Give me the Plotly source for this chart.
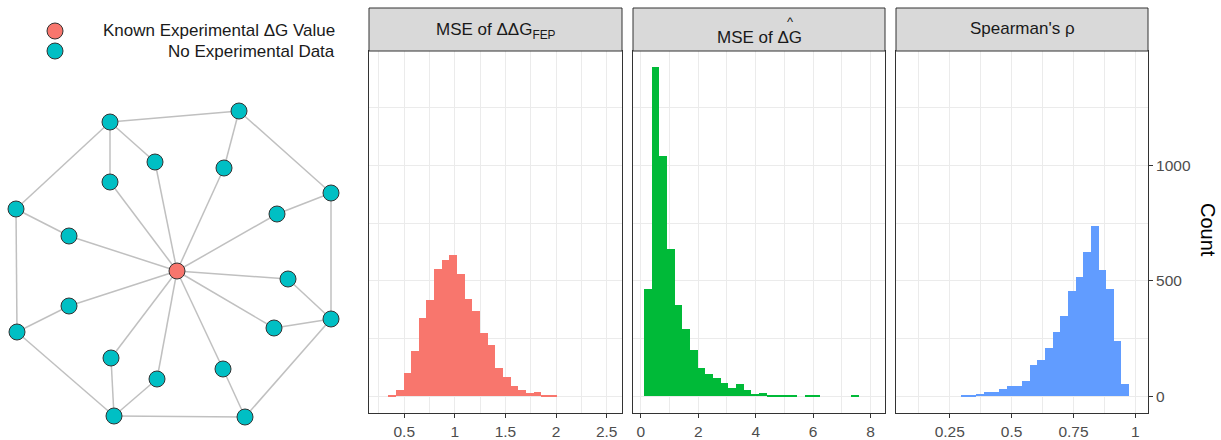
import plotly.graph_objects as go

# ---------------- data ----------------
# Histogram 1: MSE of ΔΔG_FEP
red_bin_start = 0.342
red_bin_width = 0.07555
red_counts = [3, 25, 102, 195, 339, 416, 552, 589, 612, 528, 420, 371, 275, 222,
              124, 82, 42, 25, 12, 16, 3, 2]

# Histogram 2: MSE of ΔG-hat
green_bin_start = 0.115
green_bin_width = 0.2666
green_counts = [463, 1425, 1041, 638, 395, 291, 200, 121, 95, 80, 56, 37, 52, 27,
                11, 15, 3, 6, 6, 3, 0, 2, 2, 0, 0, 0, 0, 2]

# Histogram 3: Spearman's rho
blue_bin_start = 0.2956
blue_bin_width = 0.03086
blue_counts = [4, 6, 10, 16, 20, 29, 42, 46, 66, 134, 157, 208, 279, 346, 457,
               516, 624, 739, 546, 464, 240, 53]

panel_titles = ["MSE of ΔΔG<sub>FEP</sub>", "MSE of ΔG", "Spearman's ρ"]
x_ticks_1 = [0.5, 1, 1.5, 2, 2.5]
x_labels_1 = ["0.5", "1", "1.5", "2", "2.5"]
x_ticks_2 = [0, 2, 4, 6, 8]
x_labels_2 = ["0", "2", "4", "6", "8"]
x_ticks_3 = [0.25, 0.5, 0.75, 1]
x_labels_3 = ["0.25", "0.5", "0.75", "1"]
y_ticks = [0, 500, 1000]
y_labels = ["0", "500", "1000"]

legend_labels = ["Known Experimental ΔG Value", "No Experimental Data"]

# Network layout (layout coordinates)
node_x = [177, 110, 239, 331, 331, 245, 114, 17, 16,
          110, 155, 224, 277, 288, 274, 223, 157, 111, 69, 69]
node_y = [271, 122, 111, 193, 319, 417, 416, 332, 209,
          182, 162, 168, 214, 279, 328, 369, 379, 358, 306, 236]
node_known = [True] + [False] * 19
edge_from = [1, 2, 3, 4, 5, 6, 7, 8,
             1, 1, 2, 3, 4, 4, 5, 6, 6, 7, 8,
             0, 0, 0, 0, 0, 0, 0, 0, 0, 0, 0]
edge_to = [2, 3, 4, 5, 6, 7, 8, 1,
           9, 10, 11, 12, 13, 14, 15, 17, 16, 18, 19,
           9, 10, 11, 12, 13, 14, 15, 16, 17, 18, 19]

# ---------------- styling ----------------
W, H = 1221, 440
RED, TEAL, GREEN, BLUE = "#F8766D", "#00BFC4", "#00BA38", "#619CFF"
GRID = "#EBEBEB"
DARK = "#333333"
FONT = "Liberation Sans, Arial, sans-serif"


def px(x):
    return x / W


def py(y):
    return 1 - y / H


panels = [(369, 622), (633, 885), (896, 1148)]
plot_top, plot_bottom = 51, 413
strip_top = 8

fig = go.Figure()

# ---- network ----
ex, ey = [], []
for a, b in zip(edge_from, edge_to):
    ex += [node_x[a], node_x[b], None]
    ey += [node_y[a], node_y[b], None]
fig.add_trace(go.Scatter(x=ex, y=ey, mode="lines", xaxis="x4", yaxis="y4",
                         line=dict(color="#C0C0C0", width=1.5),
                         hoverinfo="skip", showlegend=False))
fig.add_trace(go.Scatter(
    x=node_x, y=node_y, mode="markers", xaxis="x4", yaxis="y4",
    marker=dict(size=16, color=[RED if k else TEAL for k in node_known],
                line=dict(color=DARK, width=1)),
    showlegend=False))
# legend keys
fig.add_trace(go.Scatter(
    x=[55, 55], y=[31, 51], mode="markers", xaxis="x4", yaxis="y4",
    marker=dict(size=16, color=[RED, TEAL], line=dict(color=DARK, width=1)),
    showlegend=False, hoverinfo="skip"))

# ---- histograms ----
def centers(start, width, n):
    return [start + width * (i + 0.5) for i in range(n)]


hists = [
    (red_bin_start, red_bin_width, red_counts, RED, "x", "y"),
    (green_bin_start, green_bin_width, green_counts, GREEN, "x2", "y2"),
    (blue_bin_start, blue_bin_width, blue_counts, BLUE, "x3", "y3"),
]
for start, width, counts, col, xa, ya in hists:
    fig.add_trace(go.Bar(x=centers(start, width, len(counts)), y=counts,
                         width=width, marker=dict(color=col, line=dict(width=0)),
                         xaxis=xa, yaxis=ya, showlegend=False))

TICKFONT = dict(family=FONT, size=15.5, color="#4D4D4D")
xcommon = dict(showline=True, mirror=True, linecolor=DARK, linewidth=1,
               ticks="outside", ticklen=4, tickcolor=DARK, tickwidth=1,
               showgrid=True, gridcolor=GRID, gridwidth=1.1, zeroline=False,
               tickfont=TICKFONT, fixedrange=True)
ycommon = dict(showline=True, mirror=True, linecolor=DARK, linewidth=1,
               showgrid=True, gridcolor=GRID, gridwidth=1.1, zeroline=False,
               range=[-73, 1496], tickvals=y_ticks, ticktext=y_labels,
               minor=dict(dtick=250, tick0=0, showgrid=True, gridcolor=GRID,
                          gridwidth=0.6),
               fixedrange=True)
ydom = [py(plot_bottom), py(plot_top)]

layout = dict(
    width=W, height=H, margin=dict(l=0, r=0, t=0, b=0),
    paper_bgcolor="white", plot_bgcolor="white", bargap=0,
    font=dict(family=FONT, color="#1A1A1A"),
    xaxis=dict(xcommon, domain=[px(panels[0][0]), px(panels[0][1])], anchor="y",
               range=[0.152, 2.651], tickvals=x_ticks_1, ticktext=x_labels_1,
               minor=dict(dtick=0.25, tick0=0, showgrid=True, gridcolor=GRID, gridwidth=0.6)),
    xaxis2=dict(xcommon, domain=[px(panels[1][0]), px(panels[1][1])], anchor="y2",
                range=[-0.269, 8.499], tickvals=x_ticks_2, ticktext=x_labels_2,
                minor=dict(dtick=1, tick0=0, showgrid=True, gridcolor=GRID, gridwidth=0.6)),
    xaxis3=dict(xcommon, domain=[px(panels[2][0]), px(panels[2][1])], anchor="y3",
                range=[0.033, 1.051], tickvals=x_ticks_3, ticktext=x_labels_3,
                minor=dict(dtick=0.125, tick0=0, showgrid=True, gridcolor=GRID, gridwidth=0.6)),
    yaxis=dict(ycommon, domain=ydom, anchor="x", showticklabels=False, ticks=""),
    yaxis2=dict(ycommon, domain=ydom, anchor="x2", showticklabels=False, ticks=""),
    yaxis3=dict(ycommon, domain=ydom, anchor="x3", side="right",
                ticks="outside", ticklen=4, tickcolor=DARK, tickwidth=1,
                tickfont=TICKFONT),
    xaxis4=dict(domain=[0, px(356)], range=[0, 356], anchor="y4", visible=False,
                fixedrange=True),
    yaxis4=dict(domain=[0, 1], range=[H, 0], anchor="x4", visible=False,
                fixedrange=True),
)
fig.update_layout(**layout)

shapes = []
annotations = []
title_y = [30.5, 37.5, 28.5]
for (x0, x1), title, ty in zip(panels, panel_titles, title_y):
    shapes.append(dict(type="rect", xref="paper", yref="paper",
                       x0=px(x0), x1=px(x1), y0=py(plot_top), y1=py(strip_top),
                       fillcolor="#D9D9D9", line=dict(color=DARK, width=1)))
    annotations.append(dict(text=title, xref="paper", yref="paper",
                            x=px((x0 + x1) / 2), y=py(ty), showarrow=False,
                            xanchor="center", yanchor="middle",
                            font=dict(family=FONT, size=17, color="#1A1A1A")))
# hat over ΔG
annotations.append(dict(text="^", xref="paper", yref="paper", x=px(790), y=py(21),
                        showarrow=False, xanchor="center", yanchor="middle",
                        font=dict(family=FONT, size=13, color="#1A1A1A")))
# y-axis title
annotations.append(dict(text="Count", xref="paper", yref="paper", x=px(1208),
                        y=py(230), showarrow=False, textangle=90,
                        xanchor="center", yanchor="middle",
                        font=dict(family=FONT, size=20, color="black")))
# legend labels
for lab, ly in zip(legend_labels, [31, 51]):
    annotations.append(dict(text=lab, xref="paper", yref="paper", x=px(337),
                            y=py(ly), showarrow=False, xanchor="right",
                            yanchor="middle",
                            font=dict(family=FONT, size=17, color="#1A1A1A")))

fig.update_layout(shapes=shapes, annotations=annotations)
fig.write_html("out.html", config={"displayModeBar": False},
               post_script="document.body.style.margin='0';document.body.style.padding='0';document.body.style.overflow='hidden';")
